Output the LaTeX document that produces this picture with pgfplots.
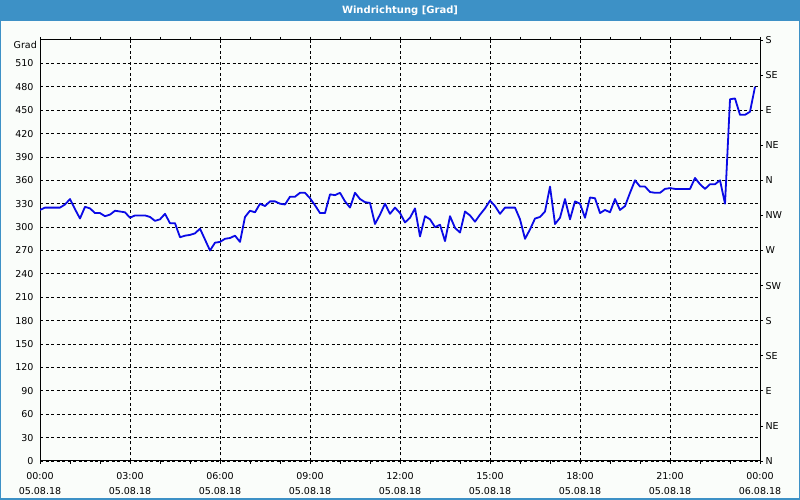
\documentclass[border=0pt]{standalone}
\usepackage{pgfplots}
\pgfplotsset{compat=1.18}
\usepackage{pgfplotstable}
\usepackage{fontspec}
\setmainfont{DejaVu Sans}
\definecolor{barblue}{RGB}{61,145,198}
\definecolor{bgc}{RGB}{250,253,250}
\definecolor{linec}{RGB}{10,10,230}

\pgfplotstableread{
t v
0 322
10 325
20 325
30 325
40 325
50 329
60 336
70 323
80 311
90 326
100 324
110 318
120 318
130 314
140 316
150 321
160 320
170 319
180 312
190 315
200 315
210 315
220 313
230 308
240 310
250 317
260 305
270 305
280 287
290 289
300 290
310 292
320 298
330 284
340 270
350 280
360 281
370 285
380 286
390 289
400 281
410 313
420 321
430 319
440 330
450 327
460 333
470 333
480 330
490 329
500 339
510 339
520 344
530 344
540 337
550 328
560 318
570 318
580 342
590 341
600 344
610 333
620 325
630 344
640 336
650 332
660 331
670 304
680 316
690 330
700 317
710 325
720 318
730 306
740 312
750 324
760 288
770 314
780 310
790 300
800 303
810 282
820 314
830 299
840 293
850 320
860 315
870 307
880 316
890 324
900 334
910 327
920 317
930 325
940 325
950 325
960 310
970 285
980 297
990 311
1000 313
1010 320
1020 352
1030 304
1040 312
1050 336
1060 310
1070 333
1080 330
1090 312
1100 338
1110 337
1120 318
1130 322
1140 319
1150 336
1160 322
1170 327
1180 344
1190 360
1200 352
1210 352
1220 345
1230 344
1240 344
1250 349
1260 350
1270 349
1280 349
1290 349
1300 349
1310 363
1320 355
1330 349
1340 355
1350 355
1360 360
1370 330
1380 464
1390 465
1400 444
1410 444
1420 448
1430 480
}\winddata

\begin{document}
\begin{tikzpicture}[x=1bp,y=1bp]
\useasboundingbox (0,0) rectangle (800,500);
\fill[barblue] (0,0) rectangle (800,500);
\fill[bgc] (1.5,1.5) rectangle (798.5,479.3);
\node[text=white, font=\bfseries\fontsize{10bp}{12bp}\selectfont] at (400,489.7) {Windrichtung [Grad]};
\node[anchor=east, font=\fontsize{9.5bp}{11bp}\selectfont, inner sep=0pt] at (37,455) {Grad};
\begin{axis}[
  at={(40bp,39bp)}, anchor=south west,
  width=720bp, height=421bp, scale only axis,
  xmin=0, xmax=1440, ymin=0, ymax=540,
  xtick={0,180,...,1440},
  xticklabels={{00:00\\05.08.18},{03:00\\05.08.18},{06:00\\05.08.18},{09:00\\05.08.18},{12:00\\05.08.18},{15:00\\05.08.18},{18:00\\05.08.18},{21:00\\05.08.18},{00:00\\06.08.18}},
  minor xtick={60,120,...,1380},
  ytick={0,30,...,510},
  /pgf/number format/assume math mode=true,
  tick label style={font=\fontsize{9.5bp}{15.5bp}\selectfont},
  xticklabel style={align=center, yshift=-4.5bp},
  yticklabel style={xshift=0bp},
  tick align=outside,
  major tick length=3bp, minor tick length=3bp,
  ytick style={draw=none},
  xtick style={black, line width=0.8bp},
  xmajorgrids, ymajorgrids,
  major grid style={black, line width=0.8bp, dash pattern=on 3bp off 2.5bp},
  axis line style={black, line width=1bp},
  axis background/.style={fill=bgc},
]
\addplot[linec, line width=1.8bp, line join=round] table[x=t,y=v] {\winddata};
\end{axis}
\begin{axis}[
  at={(40bp,39bp)}, anchor=south west,
  width=720bp, height=421bp, scale only axis,
  xmin=0, xmax=1440, ymin=0, ymax=540,
  axis x line=none, axis y line*=right,
  ytick={0,45,...,540},
  yticklabels={N,NE,E,SE,S,SW,W,NW,N,NE,E,SE,S},
  tick align=outside, major tick length=3bp,
  ytick style={black, line width=0.8bp},
  yticklabel style={font=\fontsize{9.5bp}{11bp}\selectfont, xshift=-1bp},
  axis line style={black, line width=1bp},
]
\addplot[draw=none] coordinates {(0,0)};
\end{axis}
\end{tikzpicture}
\end{document}
